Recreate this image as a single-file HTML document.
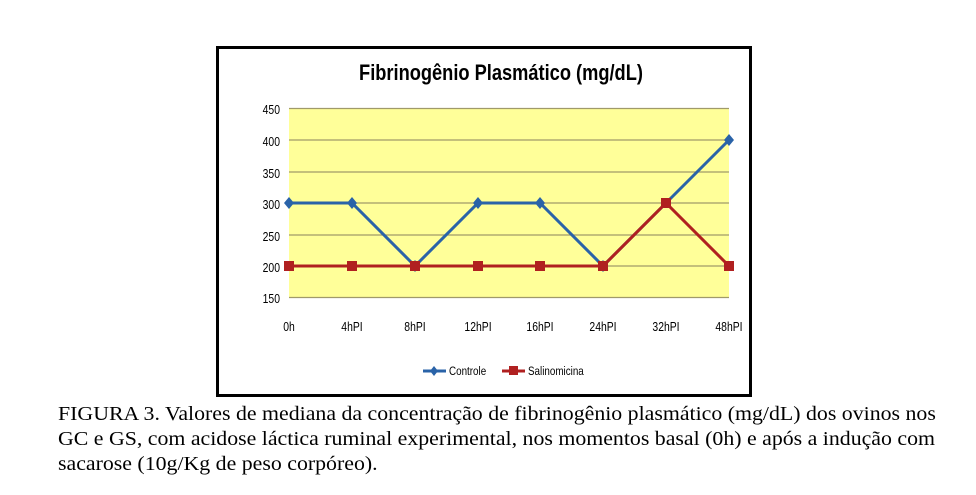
<!DOCTYPE html>
<html><head><meta charset="utf-8"><style>
body{margin:0;background:#fff;width:976px;height:495px;overflow:hidden;position:relative}
.cap{position:absolute;left:58px;top:402px;font-family:"Liberation Serif",serif;font-size:19.5px;line-height:25px;color:#000;white-space:nowrap;transform:scaleX(1.12);transform-origin:0 0}
</style></head><body>
<svg width="976" height="400" style="position:absolute;left:0;top:0">
<rect x="217.5" y="47.5" width="533" height="348" fill="#fff" stroke="#000" stroke-width="3"/>
<text x="501" y="80" text-anchor="middle" font-family="Liberation Sans, sans-serif" font-weight="bold" font-size="22" transform="translate(501,0) scale(0.83,1) translate(-501,0)">Fibrinogênio Plasmático (mg/dL)</text>
<rect x="289" y="108" width="440" height="190" fill="#ffff99"/>
<g stroke="#a09a6a" stroke-width="1.2">
<line x1="289" x2="729" y1="108.5" y2="108.5"/><line x1="289" x2="729" y1="140" y2="140"/>
<line x1="289" x2="729" y1="172" y2="172"/><line x1="289" x2="729" y1="203" y2="203"/>
<line x1="289" x2="729" y1="235" y2="235"/><line x1="289" x2="729" y1="266" y2="266"/>
<line x1="289" x2="729" y1="297.5" y2="297.5"/></g>
<g font-family="Liberation Sans, sans-serif" font-size="13" text-anchor="end" transform="translate(280,0) scale(0.8,1) translate(-280,0)">
<text x="280" y="114">450</text><text x="280" y="146">400</text><text x="280" y="178">350</text><text x="280" y="209">300</text><text x="280" y="241">250</text><text x="280" y="272">200</text><text x="280" y="303">150</text></g>
<g font-family="Liberation Sans, sans-serif" font-size="13" text-anchor="middle">
<text x="289" y="331" transform="translate(289,0) scale(0.8,1) translate(-289,0)">0h</text>
<text x="352" y="331" transform="translate(352,0) scale(0.8,1) translate(-352,0)">4hPI</text>
<text x="415" y="331" transform="translate(415,0) scale(0.8,1) translate(-415,0)">8hPI</text>
<text x="478" y="331" transform="translate(478,0) scale(0.8,1) translate(-478,0)">12hPI</text>
<text x="540" y="331" transform="translate(540,0) scale(0.8,1) translate(-540,0)">16hPI</text>
<text x="603" y="331" transform="translate(603,0) scale(0.8,1) translate(-603,0)">24hPI</text>
<text x="666" y="331" transform="translate(666,0) scale(0.8,1) translate(-666,0)">32hPI</text>
<text x="729" y="331" transform="translate(729,0) scale(0.8,1) translate(-729,0)">48hPI</text></g>
<polyline fill="none" stroke="#2a63a8" stroke-width="3" points="289,203 352,203 415,266 478,203 540,203 603,266 666,203 729,140"/>
<g fill="#2a63a8">
<path d="M289,197l5,6l-5,6l-5,-6z"/><path d="M352,197l5,6l-5,6l-5,-6z"/><path d="M415,260l5,6l-5,6l-5,-6z"/><path d="M478,197l5,6l-5,6l-5,-6z"/><path d="M540,197l5,6l-5,6l-5,-6z"/><path d="M603,260l5,6l-5,6l-5,-6z"/><path d="M729,134l5,6l-5,6l-5,-6z"/></g>
<polyline fill="none" stroke="#b02020" stroke-width="3" points="289,266 352,266 415,266 478,266 540,266 603,266 666,203 729,266"/>
<g fill="#b02020">
<rect x="284" y="261" width="10" height="10"/><rect x="347" y="261" width="10" height="10"/><rect x="410" y="261" width="10" height="10"/><rect x="473" y="261" width="10" height="10"/><rect x="535" y="261" width="10" height="10"/><rect x="598" y="261" width="10" height="10"/><rect x="661" y="198" width="10" height="10"/><rect x="724" y="261" width="10" height="10"/></g>
<line x1="423" x2="446" y1="371" y2="371" stroke="#2a63a8" stroke-width="3"/><path d="M434,366l4,5l-4,5l-4,-5z" fill="#2a63a8"/>
<text x="449" y="375" font-family="Liberation Sans, sans-serif" font-size="12" transform="translate(449,0) scale(0.82,1) translate(-449,0)">Controle</text>
<line x1="502" x2="525" y1="371" y2="371" stroke="#b02020" stroke-width="3"/><rect x="509" y="366" width="9" height="9" fill="#b02020"/>
<text x="528" y="375" font-family="Liberation Sans, sans-serif" font-size="12" transform="translate(528,0) scale(0.82,1) translate(-528,0)">Salinomicina</text>
</svg>
<div class="cap">FIGURA 3. Valores de mediana da concentração de fibrinogênio plasmático (mg/dL) dos ovinos nos<br>GC e GS, com acidose láctica ruminal experimental, nos momentos basal (0h) e após a indução com<br>sacarose (10g/Kg de peso corpóreo).</div>
</body></html>
